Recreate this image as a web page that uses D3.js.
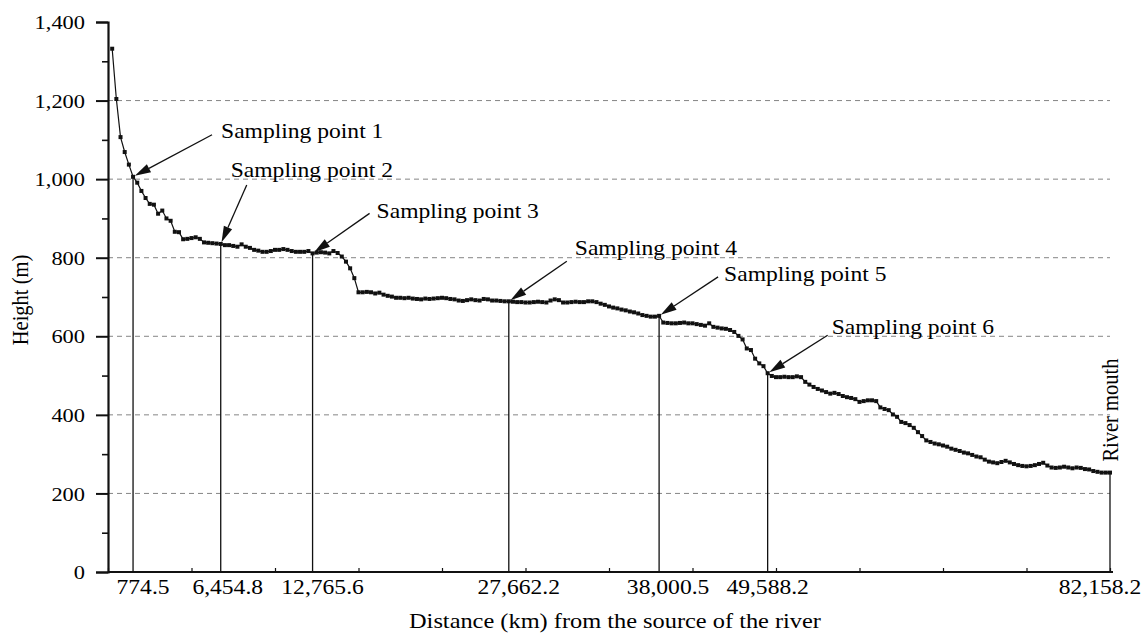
<!DOCTYPE html>
<html>
<head>
<meta charset="utf-8">
<script src="https://cdn.jsdelivr.net/npm/d3@7"></script>
<style>
  html, body { margin: 0; padding: 0; background: #fff; }
  svg { display: block; }
  text { font-family: "Liberation Serif", "Times New Roman", serif; fill: #000; }
</style>
</head>
<body>
<svg id="chart" width="1144" height="637"></svg>
<script>
// Elevation profile along the river, one value per survey station (m)
const heights = [
  1332,1204,1107,1069,1037,1006,991,970,952,937,935,912,920,900,894,866,865,847,848,850,852,848,839,838,837,836,835,
  832,832,830,828,834,828,825,820,818,815,815,817,820,820,822,820,817,815,815,815,817,811,813,814,813,811,817,812,
  803,790,773,748,712,712,713,712,709,711,706,703,701,698,698,697,698,
  696,695,694,696,695,696,697,698,697,695,694,691,690,692,694,692,691,695,694,691,691,690,689,689,688,687,687,686,
  686,687,688,687,686,691,694,692,686,686,687,688,687,687,689,689,687,683,680,676,673,671,668,666,663,661,658,654,
  652,650,650,652,
  635,634,633,633,634,635,633,633,631,629,627,633,624,622,620,619,616,611,601,592,569,565,543,531,524,506,499,496,
  496,497,496,496,498,496,
  484,477,471,466,462,458,454,456,453,448,445,443,440,433,435,437,437,435,419,415,412,401,395,382,379,374,367,356,
  346,335,331,327,325,322,
  319,314,311,308,304,302,298,294,292,286,281,279,277,280,283,279,275,272,270,269,270,272,275,278,271,266,265,266,
  268,266,264,266,265,262,261,257,255,253,253,253
];

// Stations that carry a distance label (sampling points and the river mouth)
const sampleStation = [6, 27, 49, 96, 132, 158, 240];
const distanceLabels = ["774.5", "6,454.8", "12,765.6", "27,662.2", "38,000.5", "49,588.2", "82,158.2"];
const pointNames = ["Sampling point 1", "Sampling point 2", "Sampling point 3",
                    "Sampling point 4", "Sampling point 5", "Sampling point 6"];

const yMajorTicks = [0, 200, 400, 600, 800, 1000, 1200, 1400];
const yMinorTicks = [100, 300, 500, 700, 900, 1100, 1300];
const xTickStations = [0, 20, 40, 60, 80, 100, 120, 140, 160, 180, 200, 220, 240];

// ---- layout ----
const SX = 1.15;                       // horizontal stretch of the lettering
const FONT = 20.5;
const labelShift = [10, 7, 10, 10, 9, 0, -10];
const calloutTail = [[79, -42], [26, -59], [57, -40], [58, -40], [59, -39], [60, -38]];
const calloutText = [[88, -39], [10, -67], [64, -35], [66, -46], [65, -35], [64, -39]];

const svg = d3.select("#chart");
const x = d3.scaleLinear().domain([0, 240]).range([108, 1110]);
const y = d3.scaleLinear().domain([0, 1400]).range([572, 22]);

function label(g, px, py, str, opts = {}) {
  const rot = opts.rotate ? " rotate(-90)" : "";
  return g.append("text")
    .attr("transform", `translate(${px},${py}) scale(${SX},1)${rot}`)
    .attr("text-anchor", opts.anchor || "start")
    .attr("font-size", opts.size || FONT)
    .text(str);
}

// dashed grid
svg.append("g").selectAll("line")
  .data(yMajorTicks.filter(v => v > 0 && v < 1400))
  .join("line")
  .attr("x1", x(0)).attr("x2", x(240))
  .attr("y1", d => y(d)).attr("y2", d => y(d))
  .attr("stroke", "#858585").attr("stroke-width", 1)
  .attr("stroke-dasharray", "5,4");

// y axis
const yAxis = svg.append("g").attr("transform", `translate(${x(0)},0)`)
  .call(d3.axisLeft(y).tickValues(yMajorTicks).tickSize(12).tickPadding(11)
        .tickFormat(d3.format(",")));
yAxis.select(".domain").attr("stroke", "#111").attr("stroke-width", 2.2);
yAxis.selectAll(".tick line").attr("stroke", "#111").attr("stroke-width", 2);
yAxis.selectAll(".tick text")
  .attr("x", null).attr("dy", "0.34em")
  .attr("transform", "translate(-23,0) scale(" + SX + ",1)")
  .attr("font-size", 19.5).attr("font-family", null).attr("fill", "#000");
svg.append("g").attr("transform", `translate(${x(0)},0)`)
  .call(d3.axisLeft(y).tickValues(yMinorTicks).tickSize(6).tickFormat(""))
  .call(g => g.select(".domain").remove())
  .selectAll(".tick line").attr("stroke", "#111").attr("stroke-width", 1.6);

// x axis
const xAxis = svg.append("g").attr("transform", `translate(0,${y(0)})`)
  .call(d3.axisBottom(x).tickValues(xTickStations).tickSizeInner(-4).tickSizeOuter(0).tickFormat(""));
xAxis.select(".domain").attr("stroke", "#111").attr("stroke-width", 2)
  .attr("d", `M${x(0)},0H${x(240) + 3}`);
xAxis.selectAll(".tick line").attr("stroke", "#111").attr("stroke-width", 1.2);

const gLab = svg.append("g");
sampleStation.forEach((s, k) => {
  label(gLab, x(s) + labelShift[k], 594, distanceLabels[k], { anchor: "middle", size: 20.5 });
});

// drop lines from the labelled stations to the axis
svg.append("g").selectAll("line")
  .data(sampleStation)
  .join("line")
  .attr("x1", d => x(d)).attr("x2", d => x(d))
  .attr("y1", d => y(heights[d - 1])).attr("y2", y(0))
  .attr("stroke", "#111").attr("stroke-width", 1.3);

// profile line with station markers
const stations = heights.map((h, k) => ({ s: k + 1, h }));
svg.append("path")
  .datum(stations)
  .attr("fill", "none").attr("stroke", "#111").attr("stroke-width", 1.2)
  .attr("d", d3.line().x(d => x(d.s)).y(d => y(d.h)));
svg.append("g").selectAll("rect")
  .data(stations)
  .join("rect")
  .attr("x", d => x(d.s) - 2).attr("y", d => y(d.h) - 2)
  .attr("width", 4).attr("height", 4)
  .attr("fill", "#111");

// callouts
const gCall = svg.append("g");
pointNames.forEach((name, k) => {
  const s = sampleStation[k];
  const px = x(s), py = y(heights[s - 1]);
  const tx = px + calloutTail[k][0], ty = py + calloutTail[k][1];
  const len = Math.hypot(tx - px, ty - py);
  const ux = (tx - px) / len, uy = (ty - py) / len;
  const tipX = px + ux * 2, tipY = py + uy * 2;
  const head = 16, half = 4.5;
  const bx = tipX + ux * head, by = tipY + uy * head;
  gCall.append("line")
    .attr("x1", tx).attr("y1", ty).attr("x2", bx).attr("y2", by)
    .attr("stroke", "#111").attr("stroke-width", 1.3);
  gCall.append("path")
    .attr("d", `M${tipX},${tipY}L${bx - uy * half},${by + ux * half}L${bx + uy * half},${by - ux * half}Z`)
    .attr("fill", "#111");
  label(gCall, px + calloutText[k][0], py + calloutText[k][1], name, { size: FONT });
});

// river mouth tag
const mouth = sampleStation[sampleStation.length - 1];
label(gCall, x(mouth) + 8, y(heights[mouth - 1]) - 11, "River mouth", { rotate: true, size: 20.5 });

// axis titles
label(svg, (x(0) + x(240)) / 2 + 6, 628, "Distance (km) from the source of the river", { anchor: "middle", size: 21.2 });
label(svg, 28, (y(0) + y(1400)) / 2 + 3, "Height (m)", { anchor: "middle", rotate: true, size: 20.5 });
</script>
</body>
</html>
